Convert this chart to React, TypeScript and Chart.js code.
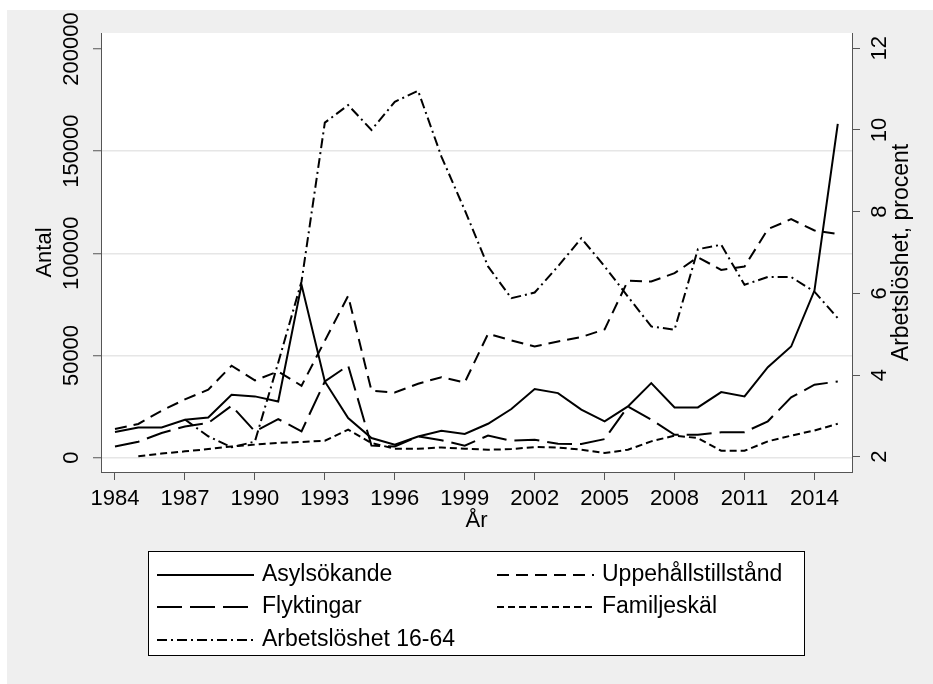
import React, { useEffect, useRef } from "react";
import { Chart, registerables } from "chart.js";

Chart.register(...registerables);

const years = [
  1984, 1985, 1986, 1987, 1988, 1989, 1990, 1991, 1992, 1993, 1994, 1995, 1996, 1997, 1998, 1999,
  2000, 2001, 2002, 2003, 2004, 2005, 2006, 2007, 2008, 2009, 2010, 2011, 2012, 2013, 2014, 2015,
];

const asylsokande = [
  12600, 14800, 14800, 18600, 19700, 30800, 30000, 27500, 84600, 37300, 19400, 9600, 6400, 10400, 13200, 11600,
  16600, 23800, 33600, 31600, 23500, 17800, 25100, 36500, 24600, 24600, 32100, 30000, 44300, 54400, 81800, 163300,
];

const uppehallstillstand = [
  14000, 16500, 23000, 28500, 33300, 45000, 37800, 42200, 35200, 57200, 79200, 32800, 31900, 36200, 39400, 36800,
  60600, 57400, 54400, 56900, 59000, 62800, 86600, 86200, 90300, 98100, 91900, 93500, 111800, 116700, 111200, 109400,
];

const flyktingar = [
  5500, 7800, 12100, 15300, 17000, 25400, 12900, 18900, 12900, 37300, 45100, 5900, 5500, 10400, 8500, 5900,
  10800, 8300, 8800, 6800, 6700, 9100, 25100, 18600, 11200, 11200, 12400, 12500, 17800, 29500, 35700, 37300,
];

const familjeskal = [
  null, 650, 2000, 3100, 4200, 5500, 6400, 7200, 7700, 8300, 13700, 7200, 4400, 4400, 5000, 4400,
  3900, 4200, 5200, 5000, 3900, 2300, 3900, 8000, 10800, 9600, 3400, 3400, 8000, 10800, 13300, 16600,
];

const arbetsloshet = [
  null, null, null, 2.91, 2.5, 2.23, 2.37, 4.3, 6.29, 10.18, 10.61, 10.0, 10.69, 10.96, 9.35, 8.04,
  6.66, 5.88, 6.02, 6.66, 7.35, 6.66, 5.92, 5.19, 5.11, 7.08, 7.19, 6.21, 6.4, 6.4, 6.04, 5.39,
];

const xTicks = [1984, 1987, 1990, 1993, 1996, 1999, 2002, 2005, 2008, 2011, 2014];
const leftTicks = [0, 50000, 100000, 150000, 200000];
const rightTicks = [2, 4, 6, 8, 10, 12];

const seriesLabels = ["Asylsökande", "Uppehållstillstånd", "Flyktingar", "Familjeskäl", "Arbetslöshet 16-64"];
const xTitle = "År";
const leftTitle = "Antal";
const rightTitle = "Arbetslöshet, procent";

const FONT = "'Liberation Sans', Arial, Helvetica, sans-serif";
const AXIS_COLOR = "#555555";

const toPoints = (vals: (number | null)[]) => years.map((yr, i) => ({ x: yr, y: vals[i] }));

const backgroundPlugin = {
  id: "stataBackground",
  beforeDraw(chart: any) {
    const ctx = chart.ctx;
    const { left, top, right, bottom } = chart.chartArea;
    ctx.save();
    ctx.fillStyle = "#ffffff";
    ctx.fillRect(0, 0, chart.width, chart.height);
    ctx.fillStyle = "#efefef";
    ctx.fillRect(7, 10, chart.width - 7, chart.height - 10);
    ctx.fillStyle = "#ffffff";
    ctx.fillRect(left, top, right - left, bottom - top);
    ctx.restore();
  },
};

const overlayPlugin = {
  id: "stataOverlay",
  afterDraw(chart: any) {
    const ctx = chart.ctx;
    ctx.save();
    // right axis title (reads bottom to top)
    const { top, bottom } = chart.chartArea;
    ctx.translate(902, (top + bottom) / 2);
    ctx.rotate(-Math.PI / 2);
    ctx.font = `23px ${FONT}`;
    ctx.fillStyle = "#000";
    ctx.textAlign = "center";
    ctx.textBaseline = "middle";
    ctx.fillText(rightTitle, 0, 0);
    ctx.restore();

    // legend box
    ctx.save();
    const bx = 148, by = 551, bw = 656, bh = 104;
    ctx.fillStyle = "#ffffff";
    ctx.fillRect(bx, by, bw, bh);
    ctx.strokeStyle = "#000";
    ctx.lineWidth = 1;
    ctx.strokeRect(bx + 0.5, by + 0.5, bw, bh);
    const cols = [157, 497];
    const rows = [575, 607, 640];
    chart.data.datasets.forEach((ds: any, i: number) => {
      const x = cols[i % 2];
      const y = rows[Math.floor(i / 2)];
      ctx.strokeStyle = "#000";
      ctx.lineWidth = 2;
      ctx.setLineDash(ds.borderDash || []);
      ctx.beginPath();
      ctx.moveTo(x, y);
      ctx.lineTo(x + 97, y);
      ctx.stroke();
      ctx.setLineDash([]);
      ctx.font = `23px ${FONT}`;
      ctx.fillStyle = "#000";
      ctx.textAlign = "left";
      ctx.textBaseline = "middle";
      ctx.fillText(ds.label, x + 105, y);
    });
    ctx.restore();
  },
};

export default function App() {
  const canvasRef = useRef<HTMLCanvasElement | null>(null);

  useEffect(() => {
    if (!canvasRef.current) return;
    const common = {
      borderColor: "#000000",
      backgroundColor: "#000000",
      borderWidth: 2,
      pointRadius: 0,
      fill: false,
      tension: 0,
      spanGaps: false,
    };
    const chart = new Chart(canvasRef.current, {
      type: "line",
      data: {
        datasets: [
          { ...common, label: seriesLabels[0], data: toPoints(asylsokande), yAxisID: "y", borderDash: [] },
          { ...common, label: seriesLabels[1], data: toPoints(uppehallstillstand), yAxisID: "y", borderDash: [12, 7] },
          { ...common, label: seriesLabels[2], data: toPoints(flyktingar), yAxisID: "y", borderDash: [25, 8] },
          { ...common, label: seriesLabels[3], data: toPoints(familjeskal), yAxisID: "y", borderDash: [7, 4] },
          { ...common, label: seriesLabels[4], data: toPoints(arbetsloshet), yAxisID: "y2", borderDash: [10, 4, 2, 4] },
        ] as any,
      },
      options: {
        animation: false,
        responsive: false,
        devicePixelRatio: 1,
        layout: { padding: { left: 7, top: 33, right: 0, bottom: 142 } },
        plugins: {
          legend: { display: false },
          tooltip: { enabled: false },
        },
        scales: {
          x: {
            type: "linear",
            min: 1983.4,
            max: 2015.61,
            afterFit: (s: any) => { s.height = 70; },
            afterBuildTicks: (s: any) => { s.ticks = xTicks.map((v) => ({ value: v })); },
            ticks: {
              color: "#000",
              font: { family: FONT, size: 22 },
              padding: 5.8,
              maxRotation: 0,
              minRotation: 0,
              autoSkip: false,
              callback: (v: any) => String(v),
            },
            grid: { drawOnChartArea: false, drawTicks: true, tickLength: 8, tickColor: AXIS_COLOR, tickWidth: 1 },
            border: { display: true, color: AXIS_COLOR, width: 1 },
            title: { display: true, text: xTitle, color: "#000", font: { family: FONT, size: 22 }, padding: { top: 0, bottom: 7.8 } },
          },
          y: {
            type: "linear",
            position: "left",
            min: -7000,
            max: 207800,
            afterFit: (s: any) => { s.width = 94; },
            afterBuildTicks: (s: any) => { s.ticks = leftTicks.map((v) => ({ value: v })); },
            ticks: {
              color: "#000",
              font: { family: FONT, size: 22 },
              minRotation: 90,
              maxRotation: 90,
              crossAlign: "center",
              padding: -15.7,
              autoSkip: false,
              callback: (v: any) => String(v),
            },
            grid: {
              drawOnChartArea: true,
              color: (c: any) => (c.tick && c.tick.value === 200000 ? "rgba(0,0,0,0)" : "#e6e6e6"),
              lineWidth: 1.5,
              drawTicks: true,
              tickLength: 8,
              tickColor: AXIS_COLOR,
              tickWidth: 1,
            },
            border: { display: true, color: AXIS_COLOR, width: 1 },
            title: { display: true, text: leftTitle, color: "#000", font: { family: FONT, size: 22 }, padding: { top: 24.8, bottom: 0 } },
          },
          y2: {
            type: "linear",
            position: "right",
            min: 1.625,
            max: 12.375,
            afterFit: (s: any) => { s.width = 81; },
            afterBuildTicks: (s: any) => { s.ticks = rightTicks.map((v) => ({ value: v })); },
            ticks: {
              color: "#000",
              font: { family: FONT, size: 22 },
              minRotation: 90,
              maxRotation: 90,
              crossAlign: "center",
              padding: 7.8,
              autoSkip: false,
              callback: (v: any) => String(v),
            },
            grid: { drawOnChartArea: false, drawTicks: true, tickLength: 8, tickColor: AXIS_COLOR, tickWidth: 1 },
            border: { display: true, color: AXIS_COLOR, width: 1 },
            title: { display: false },
          },
        },
      } as any,
      plugins: [backgroundPlugin, overlayPlugin],
    });
    return () => chart.destroy();
  }, []);

  return (
    <div style={{ position: "absolute", left: 0, top: 0, width: 933, height: 684 }}>
      <canvas ref={canvasRef} width={933} height={684} style={{ display: "block" }} />
    </div>
  );
}
